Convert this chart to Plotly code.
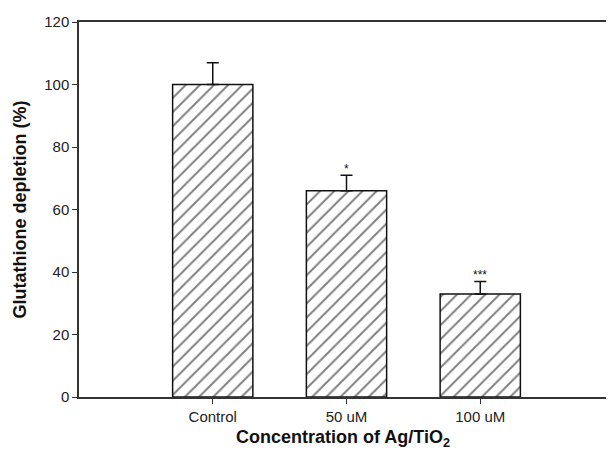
import plotly.graph_objects as go

categories = ["Control", "50 uM", "100 uM"]
values = [100, 66, 33]
errors = [7, 5, 4]
significance = ["", "*", "***"]
y_ticks = [0, 20, 40, 60, 80, 100, 120]

x_pos = [1, 2, 3]

FONT = "Liberation Sans, Arial, sans-serif"

fig = go.Figure()
fig.add_trace(go.Bar(
    x=x_pos, y=values, width=0.6,
    marker=dict(color="white", line=dict(color="#111", width=1.5),
                pattern=dict(shape="/", fgcolor="#000", bgcolor="white", size=10, solidity=0.2)),
    error_y=dict(type="data", array=errors, symmetric=False, arrayminus=[0, 0, 0],
                 color="#111", thickness=1.5, width=6),
    showlegend=False,
))

for xp, v, e, s in zip(x_pos, values, errors, significance):
    if s:
        fig.add_annotation(x=xp, y=v + e, text=s, showarrow=False, yshift=6,
                           font=dict(family=FONT, size=12, color="#111"))

# axis titles
fig.add_annotation(xref="paper", yref="paper", x=0.493, y=0, yanchor="middle",
                   yshift=-41, showarrow=False,
                   text="<b>Concentration of Ag/TiO<sub>2</sub></b>",
                   font=dict(family=FONT, size=18, color="#111"))
fig.add_annotation(xref="paper", yref="paper", x=0, y=0.5, xanchor="center",
                   xshift=-60, textangle=-90, showarrow=False,
                   text="<b>Glutathione depletion (%)</b>",
                   font=dict(family=FONT, size=18, color="#111"))

fig.update_layout(
    width=606, height=452,
    margin=dict(l=71, r=0, t=14, b=63),
    paper_bgcolor="white", plot_bgcolor="white",
    font=dict(family=FONT, color="#222"),
    xaxis=dict(range=[0, 4], tickvals=x_pos, ticktext=categories,
               showline=True, mirror=True, linecolor="#333", linewidth=1.5,
               ticks="outside", ticklen=5, tickcolor="#333", tickwidth=1,
               showgrid=False, zeroline=False, tickfont=dict(size=15),
               automargin=False),
    yaxis=dict(range=[0, 120], tickvals=y_ticks,
               showline=True, linecolor="#333", linewidth=1.5,
               ticks="outside", ticklen=5, tickcolor="#333", tickwidth=1,
               showgrid=False, zeroline=False, tickfont=dict(size=15),
               automargin=False),
)

fig.write_html("out.html")
